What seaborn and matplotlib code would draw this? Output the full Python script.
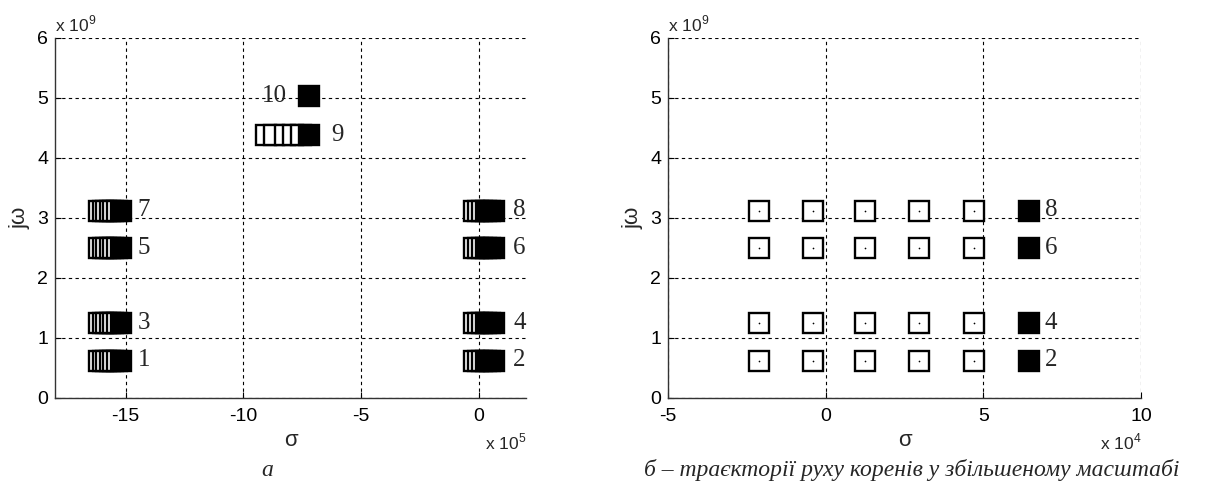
import numpy as np
import pandas as pd
import matplotlib
matplotlib.use("Agg")
import matplotlib.pyplot as plt
import seaborn as sns

# ---------------- data ----------------
# imaginary parts (x 1e9)
omega_pairs = [0.625, 1.25, 2.5, 3.125]
omega_9 = 4.38
omega_10 = 5.03
# left-hand group of roots 1,3,5,7 (sigma, x 1e5)
sigma_left_group = [-16.13, -15.98, -15.82, -15.67, -15.52, -15.36, -15.21]
labels_left_group = ["1", "3", "5", "7"]
# right-hand group of roots 2,4,6,8 (sigma, x 1e4)
sigma_right_group = [-2.1, -0.4, 1.25, 2.95, 4.7, 6.45]
labels_right_group = ["2", "4", "6", "8"]
# root 9 and 10 (sigma, x 1e5)
sigma_9 = [-9.04, -8.70, -8.23, -7.89, -7.55, -7.21]
sigma_10 = [-7.23]

x_ticks_a = [-15, -10, -5, 0]
x_ticks_b = [-5, 0, 5, 10]
y_ticks = [0, 1, 2, 3, 4, 5, 6]

# ---------------- style ----------------
sns.set_theme(style="white")
plt.rcParams['font.family'] = ['Liberation Sans', 'DejaVu Sans']
plt.rcParams['mathtext.fontset'] = 'custom'
plt.rcParams['mathtext.rm'] = 'Liberation Sans'
plt.rcParams['axes.unicode_minus'] = False

fig = plt.figure(figsize=(12.14, 4.92), dpi=100)
W, H = 1214, 492
def ax_rect(x0, x1, y0, y1):
    return [x0 / W, 1 - y1 / H, (x1 - x0) / W, (y1 - y0) / H]

axA = fig.add_axes(ax_rect(55, 526, 38, 398))
axB = fig.add_axes(ax_rect(668, 1141, 38, 398))

MS = 200
LW = 1.7
serif = ['Liberation Serif', 'DejaVu Serif']

def draw_traj(ax, xs, y, n_filled=1, dots=False):
    df = pd.DataFrame({"s": xs, "w": [y] * len(xs)})
    n = len(xs)
    open_df = df.iloc[: n - n_filled]
    fill_df = df.iloc[n - n_filled:]
    if len(open_df):
        sns.scatterplot(data=open_df, x="s", y="w", ax=ax, marker="s", s=MS,
                        facecolor="white", edgecolor="black", linewidth=LW, zorder=3)
        if dots:
            sns.scatterplot(data=open_df, x="s", y="w", ax=ax, marker="o", s=1.5,
                            color="black", linewidth=0, zorder=4)
    sns.scatterplot(data=fill_df, x="s", y="w", ax=ax, marker="s", s=MS,
                    facecolor="black", edgecolor="black", linewidth=LW, zorder=3)

# ----- plot a -----
for w in omega_pairs:
    draw_traj(axA, sigma_left_group, w, n_filled=1)
    draw_traj(axA, [v / 10 for v in sigma_right_group], w, n_filled=3)
draw_traj(axA, sigma_9, omega_9, n_filled=1)
draw_traj(axA, sigma_10, omega_10, n_filled=1)

for lab, w in zip(labels_left_group, omega_pairs):
    axA.text(-14.5, w, lab, fontsize=18, family=serif, ha='left', va='center', zorder=5)
for lab, w in zip(labels_right_group, omega_pairs):
    axA.text(1.45, w, lab, fontsize=18, family=serif, ha='left', va='center', zorder=5)
axA.text(-6.25, omega_9, "9", fontsize=18, family=serif, ha='left', va='center', zorder=5)
axA.text(-8.15, omega_10, "10", fontsize=18, family=serif, ha='right', va='center', zorder=5)

axA.set_xlim(-18, 2)
axA.set_xticks(x_ticks_a)

# ----- plot b -----
for w in omega_pairs:
    draw_traj(axB, sigma_right_group, w, n_filled=1, dots=True)
for lab, w in zip(labels_right_group, omega_pairs):
    axB.text(6.95, w, lab, fontsize=18, family=serif, ha='left', va='center', zorder=5)
axB.set_xlim(-5, 10)
axB.set_xticks(x_ticks_b)

for ax, mult in [(axA, "5"), (axB, "4")]:
    for coll in ax.collections:
        coll.set_joinstyle('miter')
    ax.set_ylim(0, 6)
    ax.set_yticks(y_ticks)
    ax.set_xlabel("")
    ax.set_ylabel("")
    ax.grid(True, linestyle=(0, (3, 3)), color="black", linewidth=0.8)
    ax.set_axisbelow(True)
    for sp in ["top", "right"]:
        ax.spines[sp].set_visible(False)
    for sp in ["left", "bottom"]:
        ax.spines[sp].set_color("#333333")
        ax.spines[sp].set_linewidth(1.0)
    ax.tick_params(axis="both", which="both", direction="in", length=4,
                   width=0.8, labelsize=14, colors="black",
                   left=True, bottom=True)
    ax.tick_params(axis="x", pad=7)
    ax.tick_params(axis="y", pad=5)
    ax.text(0.5, -42 / 360, "σ", transform=ax.transAxes, fontsize=16,
            ha='center', va='center')
    ax.text(-35 / (ax.get_position().width * W), 0.5, "jω", transform=ax.transAxes,
            fontsize=16, ha='center', va='center', rotation=90)
    ax.text(0.0, 1 + 14 / 360, r"x 10$^{9}$", transform=ax.transAxes,
            fontsize=12.5, ha='left', va='center')
    ax.text(1.0, -44 / 360, r"x 10$^{" + mult + "}$", transform=ax.transAxes,
            fontsize=12.5, ha='right', va='center')

fig.text(267 / W, 1 - 470 / H, "а", fontsize=17, family=serif, style='italic',
         ha='center', va='center')
fig.text(912 / W, 1 - 470 / H, "б – траєкторії руху коренів у збільшеному масштабі",
         fontsize=17, family=serif, style='italic', ha='center', va='center')

fig.savefig("out.png", dpi=100, facecolor="white")
